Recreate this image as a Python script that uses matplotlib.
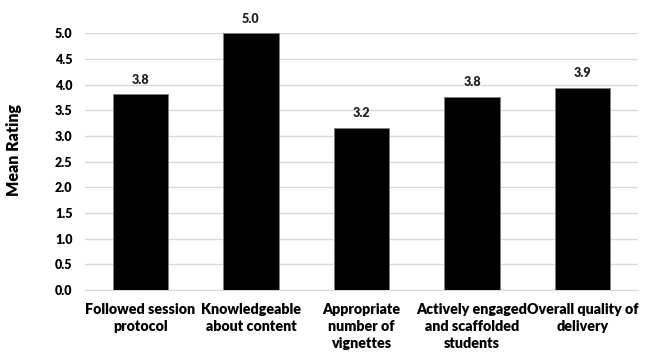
import matplotlib.pyplot as plt
import numpy as np

categories = [
    "Followed session\nprotocol",
    "Knowledgeable\nabout content",
    "Appropriate\nnumber of\nvignettes",
    "Actively engaged\nand scaffolded\nstudents",
    "Overall quality of\ndelivery",
]
mean_rating = [3.82, 5.0, 3.16, 3.77, 3.94]
y_ticks = [0.0, 0.5, 1.0, 1.5, 2.0, 2.5, 3.0, 3.5, 4.0, 4.5, 5.0]

plt.rcParams['font.family'] = ['Lato', 'DejaVu Sans']
plt.rcParams['font.weight'] = 'heavy'

fig = plt.figure(figsize=(6.49, 3.55), dpi=100)
ax = fig.add_axes([0.131, 0.183, 0.852, 0.723])

x = np.arange(len(categories))
bars = ax.bar(x, mean_rating, width=0.5, color='black', edgecolor='#808080',
              linewidth=0.6, zorder=3)

for b, v in zip(bars, mean_rating):
    ax.annotate(f"{v:.1f}", (b.get_x() + b.get_width() / 2, v),
                xytext=(0, 6), textcoords='offset points',
                ha='center', va='bottom', fontsize=9, fontweight='heavy',
                color='#222222', annotation_clip=False)

ax.set_xlim(-0.5, len(categories) - 0.5)
ax.set_ylim(0, 5)
ax.set_yticks(y_ticks)
ax.set_yticklabels([f"{t:.1f}" for t in y_ticks], fontsize=9, fontweight='heavy')
ax.set_xticks(x)
ax.set_xticklabels(categories, fontsize=10.3, fontweight='heavy', linespacing=1.4)
ax.tick_params(axis='x', length=0, pad=9)
ax.tick_params(axis='y', length=0, pad=9)

ax.yaxis.grid(True, color='#d9d9d9', linewidth=1, zorder=0)
for s in ['top', 'right', 'left']:
    ax.spines[s].set_visible(False)
ax.spines['bottom'].set_color('#d9d9d9')
ax.spines['bottom'].set_zorder(1)

ax.set_ylabel("Mean Rating", fontsize=11.5, fontweight='heavy')
ax.yaxis.set_label_coords(-0.114, 0.545)

fig.savefig("out.png", dpi=100)
